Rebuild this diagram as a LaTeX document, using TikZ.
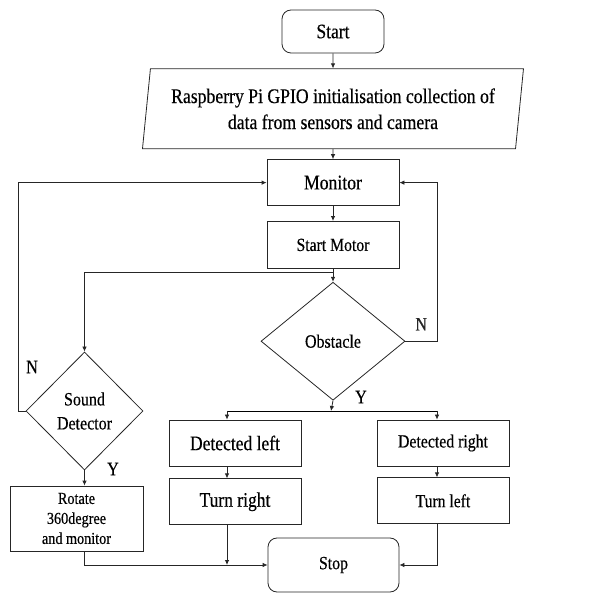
\documentclass[tikz,border=0pt]{standalone}
\usepackage{fontspec}
\setmainfont[FakeStretch=0.85,FakeBold=0.4]{Liberation Serif}
\usetikzlibrary{arrows.meta,positioning,shapes.geometric}
\newcommand{\fsz}[2]{\fontsize{#1}{#2}\selectfont}

\begin{document}
\begin{tikzpicture}[
    x=1pt, y=-1pt,
    base/.style={draw=black!85, line width=0.8pt, inner sep=0pt, align=center},
    proc/.style={base, minimum width=132pt, minimum height=46pt, font=\fsz{#1}{#1}},
    term/.style={proc=#1, rounded corners=9pt},
    decision/.style={base, diamond, font=\fsz{#1}{24}},
    lbl/.style={font=\fsz{19}{19}},
    arr/.style={-{Latex[length=5pt,width=4.5pt]}, line width=0.8pt, black!85},
    node distance=15pt
  ]
    \useasboundingbox (0,0) rectangle (608,593);

    \node[term=20.6, minimum width=102pt, minimum height=43pt] (start) at (333,31.5) {Start};
    \node[base, trapezium, trapezium left angle=79, trapezium right angle=101,
          trapezium stretches body, minimum width=381pt, minimum height=80pt,
          font=\fsz{20.8}{26}, below=15pt of start] (init)
      {Raspberry Pi GPIO initialisation collection of\\data from sensors and camera};
    \node[proc=20.8, below=10pt of init] (monitor) {Monitor};
    \node[proc=18.5, minimum height=47pt, below=15pt of monitor] (motor) {Start Motor};
    \node[decision=18.8, minimum width=144pt, minimum height=118pt,
          below=13pt of motor] (obstacle) {Obstacle};

    \node[decision=18.8, minimum width=117pt, minimum height=118pt] (sound) at (84.5,411)
      {Sound\\Detector};
    \node[proc=16.7, minimum width=133pt, minimum height=65pt, font=\fsz{16.7}{20}]
      (rotate) at (76.5,518.5) {Rotate\\360degree\\and monitor};

    \node[proc=20.6] (detleft) at (235,443) {Detected left};
    \node[proc=20.6, below=12pt of detleft] (turnright) {Turn right};
    \node[proc=18.6] (detright) at (443,443) {Detected right};
    \node[proc=18.4, below=11pt of detright] (turnleft) {Turn left};
    \node[term=18.6, minimum width=131pt, minimum height=54pt] (stop) at (333.5,565) {Stop};

    % branch points
    \coordinate (split) at (333,272);
    \coordinate (ysplit) at (331,411);
    \coordinate (lcol) at (227,411);
    \coordinate (rcol) at (437,411);
    \coordinate (lx) at (18,0);

    \draw[arr] (start) -- (init);
    \draw[arr] (init) -- (monitor);
    \draw[arr] (monitor) -- (motor);
    \draw[arr] (motor) -- (obstacle);
    \draw[arr] (split) -| (sound.north);

    % loops back to Monitor
    \draw[arr] (obstacle.east) -- node[lbl, above=7pt] (nright) {N}
      (obstacle.east -| rcol) |- (monitor.east);
    \draw[arr] (sound.west) -- (sound.west -| lx) |- (monitor.west);
    \node[lbl] (nleft) at (32,367) {N};

    % yes branches
    \draw[arr] (sound.south) -- (sound.south |- rotate.north);
    \node[lbl] (ysound) at (113,469) {Y};
    \draw[arr] (obstacle.south) -- (ysplit);
    \node[lbl] (yobst) at (361,397) {Y};
    \draw (lcol) -- (rcol);
    \draw[arr] (lcol) -- (lcol |- detleft.north);
    \draw[arr] (rcol) -- (rcol |- detright.north);
    \draw[arr] (lcol |- detleft.south) -- (lcol |- turnright.north);
    \draw[arr] (rcol |- detright.south) -- (rcol |- turnleft.north);

    % to Stop
    \draw[arr] (sound.south |- rotate.south) |- (stop.west);
    \draw[arr] (lcol |- turnright.south) -- (lcol |- stop.west);
    \draw[arr] (rcol |- turnleft.south) |- (stop.east);
  \end{tikzpicture}
\end{document}
